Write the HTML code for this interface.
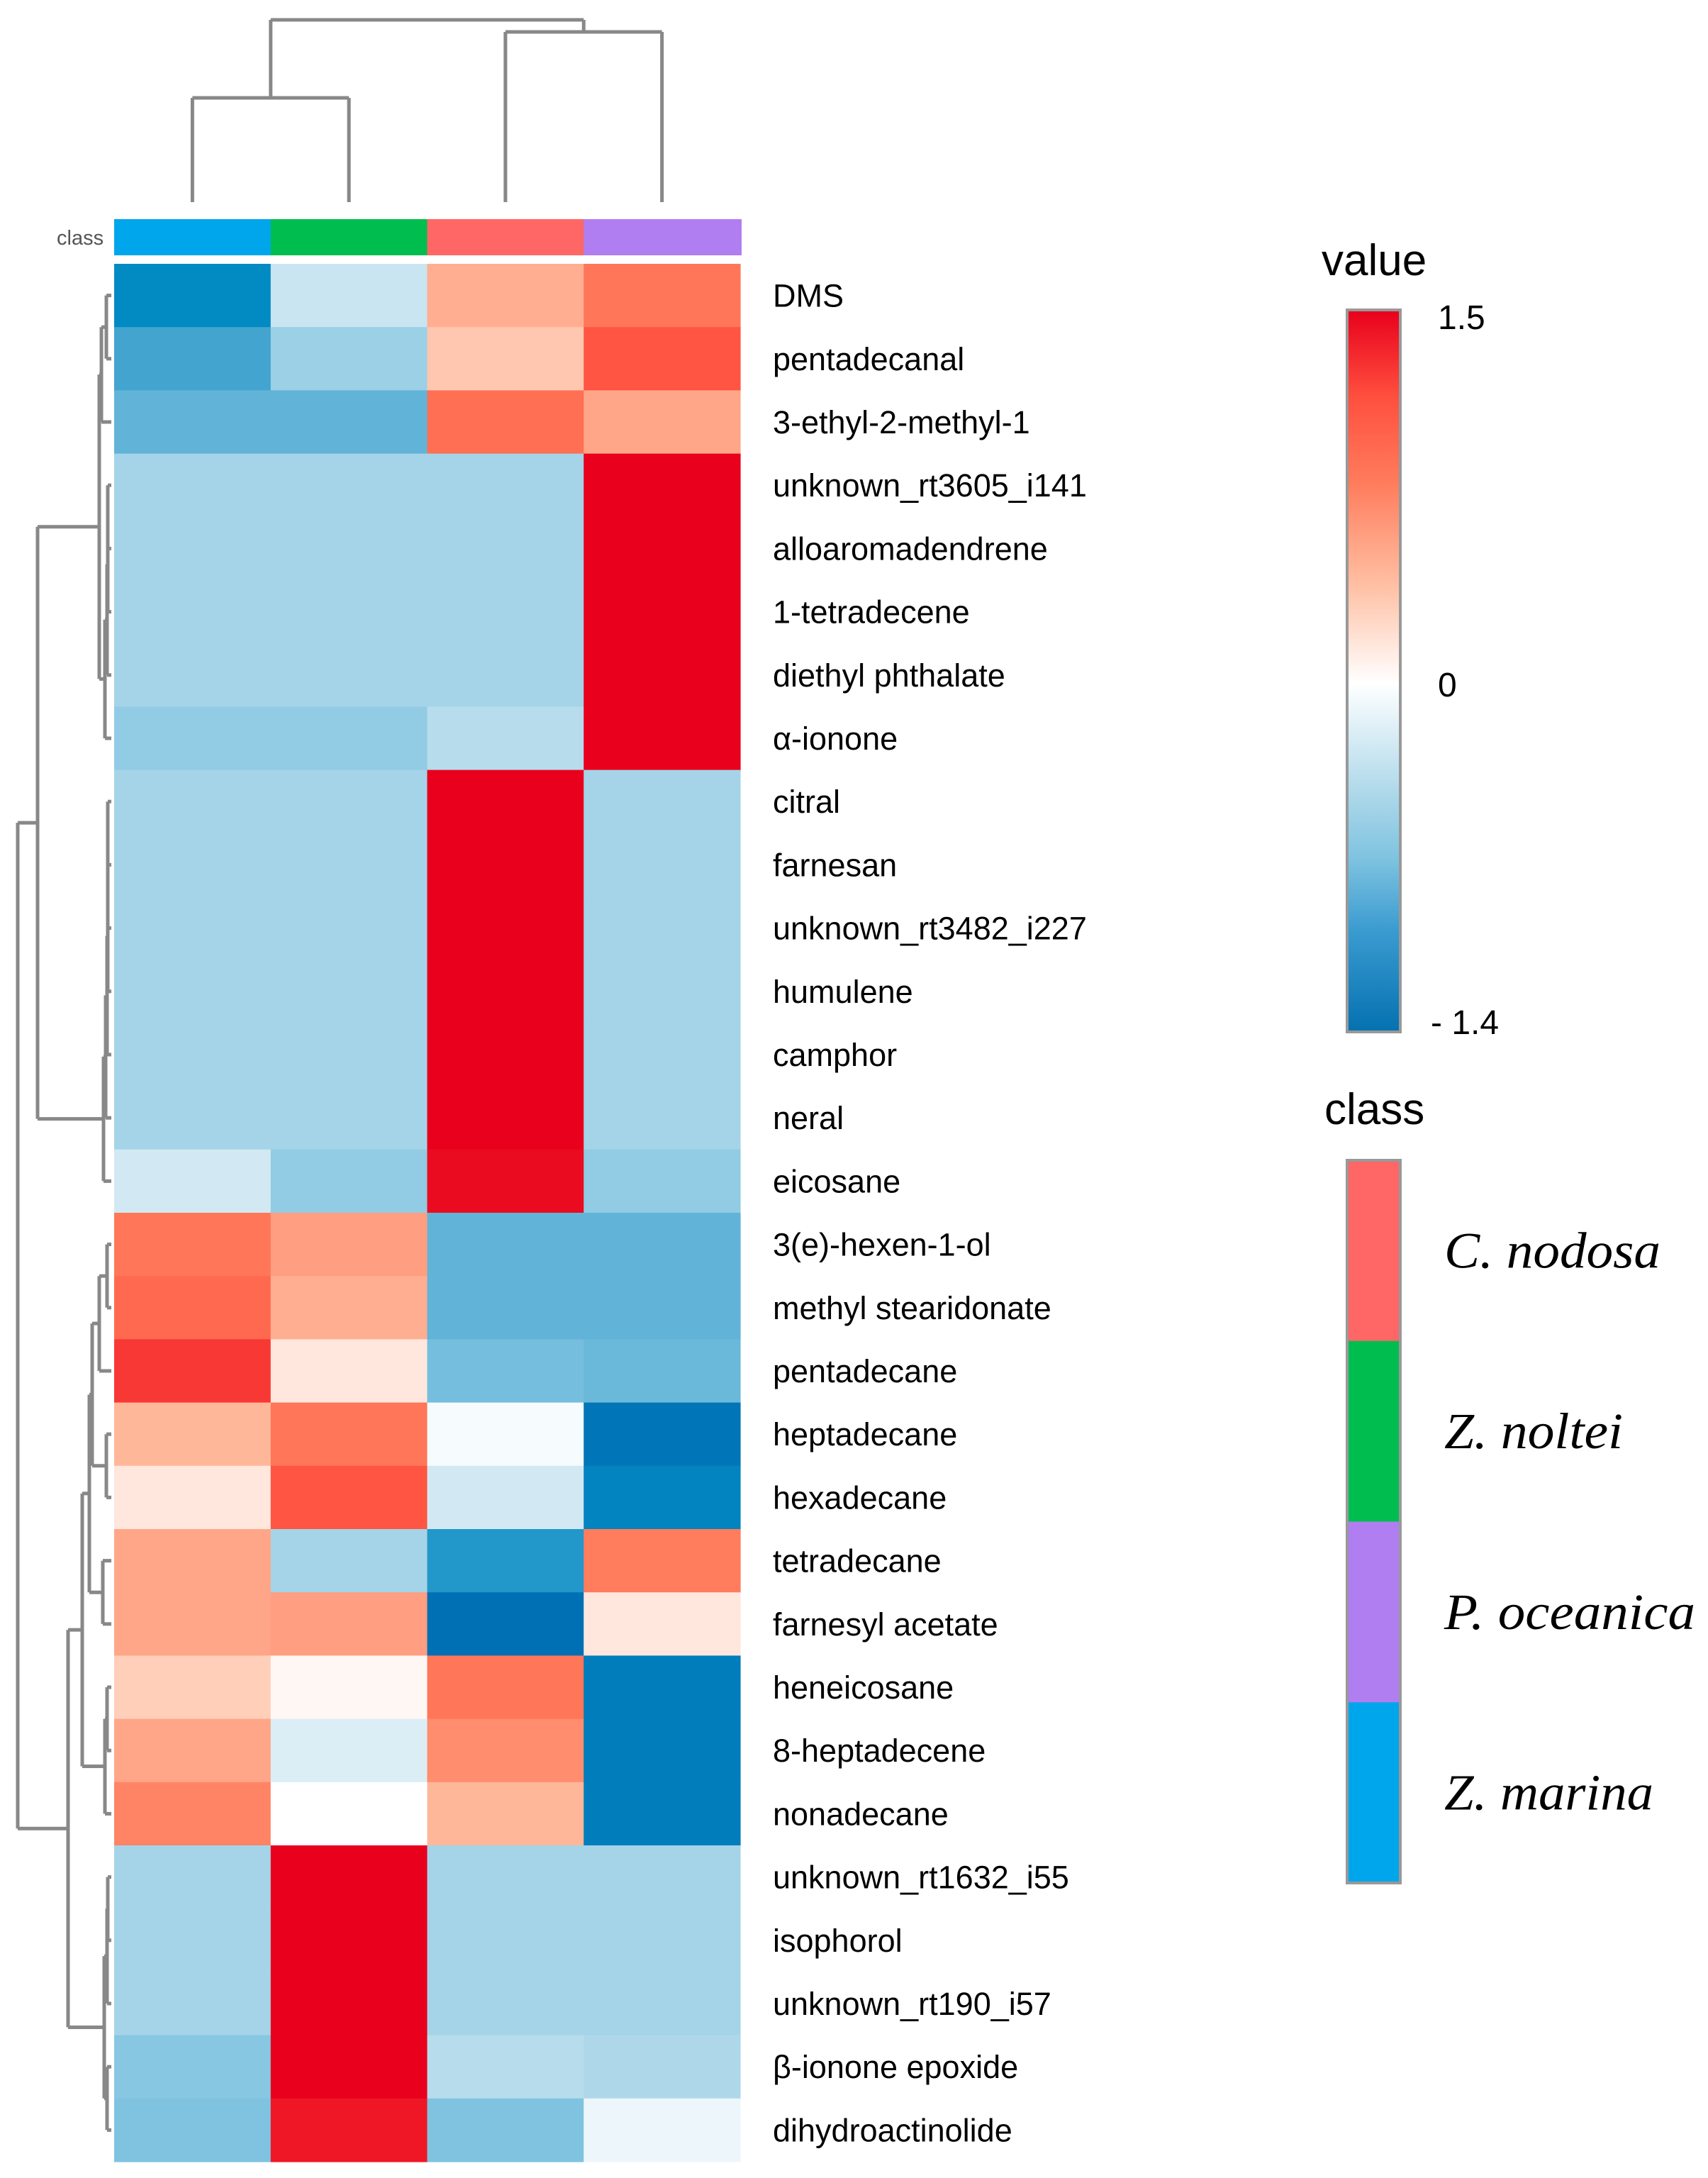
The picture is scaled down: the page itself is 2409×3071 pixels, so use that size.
<!DOCTYPE html>
<html><head><meta charset="utf-8"><style>
html,body{margin:0;padding:0;background:#fff;}
svg{display:block;}
</style></head><body>
<svg id="chart" width="2409" height="3071" viewBox="0 0 2409 3071" xmlns="http://www.w3.org/2000/svg">
<defs>
<linearGradient id="cbar" x1="0" y1="1" x2="0" y2="0">
<stop offset="0" stop-color="#0571b0"/>
<stop offset="0.14" stop-color="#3a9bd0"/>
<stop offset="0.24" stop-color="#7fc3e0"/>
<stop offset="0.33" stop-color="#aed8ea"/>
<stop offset="0.483" stop-color="#ffffff"/>
<stop offset="0.62" stop-color="#ffbfa3"/>
<stop offset="0.76" stop-color="#ff7c5c"/>
<stop offset="0.88" stop-color="#ff4f3e"/>
<stop offset="1" stop-color="#e8001c"/>
</linearGradient>
</defs>
<g id="cells"></g>
<g id="dendro"></g>
<g id="labels"></g>
<text x="80" y="345" font-family="Liberation Sans, sans-serif" font-size="29" fill="#555">class</text>
<text x="1864" y="388" font-family="Liberation Sans, sans-serif" font-size="62" fill="#000">value</text>
<rect x="1900" y="437" width="75" height="1018" fill="url(#cbar)" stroke="#999" stroke-width="4"/>
<text x="2028" y="464" font-family="Liberation Sans, sans-serif" font-size="48">1.5</text>
<text x="2028" y="982" font-family="Liberation Sans, sans-serif" font-size="48">0</text>
<text x="2018" y="1458" font-family="Liberation Sans, sans-serif" font-size="48">- 1.4</text>
<text x="1868" y="1585" font-family="Liberation Sans, sans-serif" font-size="62" fill="#000">class</text>
<g id="classlegend"></g>
</svg>
<script>
const rowNames=["DMS","pentadecanal","3-ethyl-2-methyl-1","unknown_rt3605_i141","alloaromadendrene","1-tetradecene","diethyl phthalate","α-ionone","citral","farnesan","unknown_rt3482_i227","humulene","camphor","neral","eicosane","3(e)-hexen-1-ol","methyl stearidonate","pentadecane","heptadecane","hexadecane","tetradecane","farnesyl acetate","heneicosane","8-heptadecene","nonadecane","unknown_rt1632_i55","isophorol","unknown_rt190_i57","β-ionone epoxide","dihydroactinolide"];
const classNames=["Z. marina","Z. noltei","C. nodosa","P. oceanica"];
const classColors=["#00a6eb","#00bd50","#ff6666","#b07ef0"];
const colZm=[-1.2,-1.0,-0.85,-0.5,-0.5,-0.5,-0.5,-0.6,-0.5,-0.5,-0.5,-0.5,-0.5,-0.5,-0.25,0.85,0.95,1.25,0.45,0.15,0.55,0.55,0.3,0.55,0.75,-0.5,-0.5,-0.5,-0.65,-0.7];
const colZn=[-0.3,-0.55,-0.85,-0.5,-0.5,-0.5,-0.5,-0.6,-0.5,-0.5,-0.5,-0.5,-0.5,-0.5,-0.6,0.6,0.5,0.15,0.85,1.1,-0.5,0.6,0.05,-0.2,0,1.5,1.5,1.5,1.5,1.4];
const colCn=[0.5,0.35,0.9,-0.5,-0.5,-0.5,-0.5,-0.4,1.5,1.5,1.5,1.5,1.5,1.5,1.45,-0.85,-0.85,-0.75,-0.05,-0.25,-1.1,-1.4,0.85,0.7,0.45,-0.5,-0.5,-0.5,-0.4,-0.7];
const colPo=[0.85,1.1,0.55,1.5,1.5,1.5,1.5,1.5,-0.5,-0.5,-0.5,-0.5,-0.5,-0.5,-0.6,-0.85,-0.85,-0.8,-1.35,-1.25,0.8,0.15,-1.3,-1.3,-1.3,-0.5,-0.5,-0.5,-0.45,-0.1];
const legendOrder=["C. nodosa","Z. noltei","P. oceanica","Z. marina"];
const legendColors=["#ff6666","#00bd50","#b07ef0","#00a6eb"];
const legendWidths=[305,252,354,295];

const NS="http://www.w3.org/2000/svg";
const X0=161,X1=1044,Y0=372,Y1=3048;
const cw=(X1-X0)/4, rh=(Y1-Y0)/rowNames.length;
const colX=i=>X0+i*cw, rowY=i=>Y0+i*rh;
const stops=[[-1.4,[0,112,181]],[-1.2,[2,138,194]],[-1.0,[66,164,207]],[-0.7,[127,195,224]],[-0.45,[174,216,234]],[0,[255,255,255]],[0.4,[255,191,163]],[0.8,[255,124,92]],[1.15,[255,79,62]],[1.5,[232,0,28]]];
function color(v){
  if(v<=stops[0][0])return "rgb("+stops[0][1]+")";
  for(let i=1;i<stops.length;i++){if(v<=stops[i][0]){const a=stops[i-1],b=stops[i],t=(v-a[0])/(b[0]-a[0]);
    return "rgb("+a[1].map((c,k)=>Math.round(c+(b[1][k]-c)*t)).join(",")+")";}}
  return "rgb("+stops[stops.length-1][1]+")";
}
function mk(tag,attrs,parent){const e=document.createElementNS(NS,tag);for(const k in attrs)e.setAttribute(k,attrs[k]);parent.appendChild(e);return e;}
const cells=document.getElementById("cells");
const cols=[colZm,colZn,colCn,colPo];
for(let c=0;c<4;c++){
  const hb=mk("rect",{x:colX(c),y:309,width:cw+2,height:51,fill:classColors[c]},cells);
  
  
  for(let r=0;r<rowNames.length;r++){
    const e=mk("rect",{x:colX(c),y:rowY(r),width:cw+0.6,height:rh+0.6,fill:color(cols[c][r])},cells);
    
    
  }
}
const labels=document.getElementById("labels");
rowNames.forEach((n,r)=>{
  const t=mk("text",{x:1090,y:rowY(r)+rh/2+16,"font-family":"Liberation Sans, sans-serif","font-size":45,fill:"#000"},labels);
  t.textContent=n;
  
  
});
const dg=document.getElementById("dendro");
function line(x1,y1,x2,y2){const l=mk("path",{d:`M${x1},${y1}L${x2},${y2}`,stroke:"#888",fill:"none","stroke-width":5},dg);
  
  }
const rowMerges={};
function node(id,a,b,x){rowMerges[id]={a,b,x};}
node("a",0,1,150);node("b","a",2,143);node("c",3,4,152);node("d","c",5,152);node("e","d",6,151);node("f","e",7,148);node("g","b","f",140);
node("h",8,9,152);node("i","h",10,152);node("j","i",11,152);node("k","j",12,151);node("l","k",13,149);node("m","l",14,146);
node("top","g","m",53);
node("n",15,16,151);node("o","n",17,140);node("p",18,19,150);node("q","o","p",130);node("r",20,21,145);node("s","q","r",126);
node("t",22,23,151);node("u","t",24,148);node("v","s","u",116);node("w",25,26,152);node("x","w",27,151);node("y",28,29,151);node("z","x","y",147);
node("bot","v","z",96);node("root","top","bot",25);
function pos(id){
  if(typeof id==="number")return {x:X0-4,y:rowY(id)+rh/2};
  const m=rowMerges[id],A=pos(m.a),B=pos(m.b);
  line(A.x,A.y,m.x,A.y);line(B.x,B.y,m.x,B.y);line(m.x,A.y,m.x,B.y);
  return {x:m.x,y:(A.y+B.y)/2};
}
pos("root");
const cm={};
function cn(id,a,b,y){cm[id]={a,b,y};}
cn("c01",0,1,138);cn("c23",2,3,45);cn("croot","c01","c23",28);
function cpos(id){
  if(typeof id==="number")return {x:colX(id)+cw/2,y:285};
  const m=cm[id],A=cpos(m.a),B=cpos(m.b);
  line(A.x,A.y,A.x,m.y);line(B.x,B.y,B.x,m.y);line(A.x,m.y,B.x,m.y);
  return {x:(A.x+B.x)/2,y:m.y};
}
cpos("croot");
const cl=document.getElementById("classlegend");
const segH=1019/4;
legendOrder.forEach((n,i)=>{
  const r=mk("rect",{x:1900,y:1636+i*segH,width:75,height:segH+0.5,fill:legendColors[i]},cl);
  
  
  const t=mk("text",{x:2037,y:1636+i*segH+segH/2+24,"font-family":"Liberation Serif, serif","font-style":"italic","font-size":72,textLength:legendWidths[i],lengthAdjust:"spacingAndGlyphs"},cl);
  t.textContent=n;
  
  
});
const br=mk("rect",{x:1900,y:1636,width:75,height:1019,fill:"none",stroke:"#999","stroke-width":4},cl);


</script>
</body></html>
